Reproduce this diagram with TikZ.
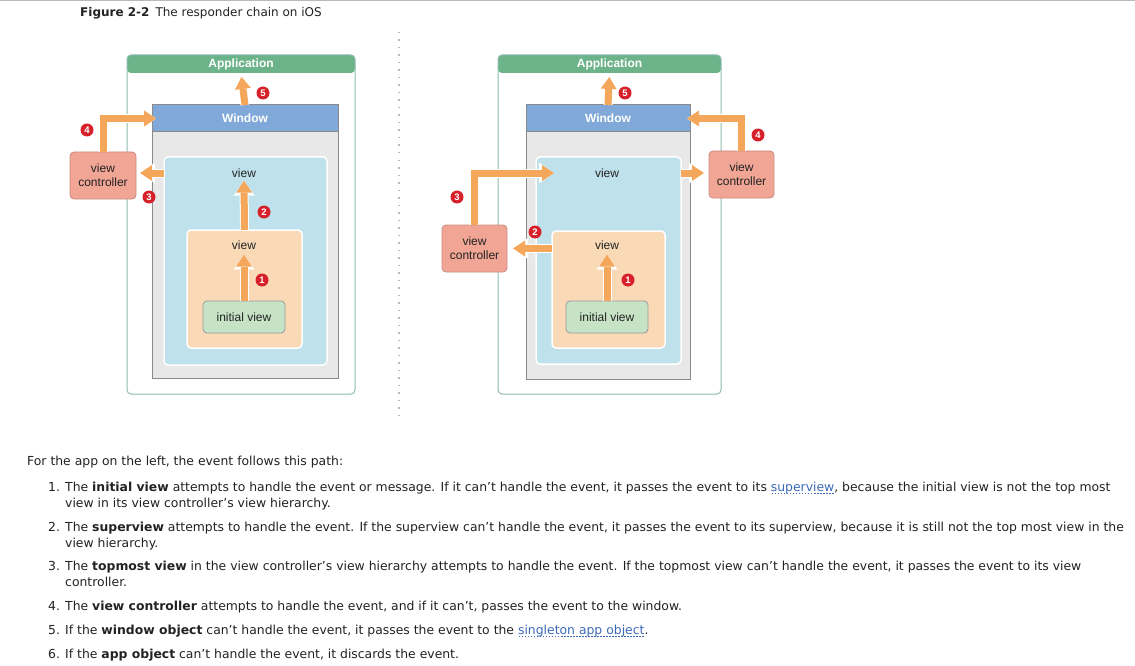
\documentclass[tikz,border=0pt]{standalone}
\usepackage{fontspec}
\usetikzlibrary{arrows.meta,calc}
\setmainfont{DejaVu Sans}
\newfontfamily\figfont{Liberation Sans}
\definecolor{appgreen}{HTML}{6DB38A}
\definecolor{appline}{HTML}{8DBBAE}
\definecolor{winblue}{HTML}{80A8D8}
\definecolor{wingray}{HTML}{8A8A8A}
\definecolor{winfill}{HTML}{E8E8E8}
\definecolor{viewblue}{HTML}{BEE1EB}
\definecolor{viewpeach}{HTML}{F9D9B6}
\definecolor{initfill}{HTML}{C7E3C6}
\definecolor{initline}{HTML}{9A9A9A}
\definecolor{vcfill}{HTML}{F1A595}
\definecolor{vcline}{HTML}{C98A80}
\definecolor{floworange}{HTML}{F4A75A}
\definecolor{badgered}{HTML}{D6212B}
\definecolor{linkblue}{HTML}{3C6AB8}
\definecolor{textdark}{HTML}{222222}
\newsavebox\lnkbox
\newcommand{\lnk}[1]{{\color{linkblue}\sbox\lnkbox{#1}\rlap{\usebox\lnkbox}%
  \raisebox{-3pt}{\hbox to \wd\lnkbox{\xleaders\hbox to 3pt{\hss\rule{1.6pt}{0.7pt}\hss}\hfill}}}}

\begin{document}
\begin{tikzpicture}[x=1pt,y=-1pt,
    box/.style={inner sep=0pt,outer sep=0pt},
    appbox/.style={box,draw=appline,line width=1pt,rounded corners=4pt,
      path picture={\fill[appgreen] (path picture bounding box.north west)
        rectangle ([yshift=-18pt]path picture bounding box.north east);}},
    apphead/.style={box,anchor=north,minimum height=18pt,text=white,
      font=\figfont\bfseries\fontsize{12}{12}\selectfont},
    winbox/.style={box,draw=wingray,fill=winfill,line width=1pt},
    winhead/.style={box,anchor=north,draw=wingray,fill=winblue,line width=1pt,
      minimum height=27pt,text=white,font=\figfont\bfseries\fontsize{12}{12}\selectfont},
    viewbox/.style={box,draw=white,line width=1.5pt,rounded corners=4pt},
    initbox/.style={box,draw=initline,fill=initfill,line width=0.8pt,rounded corners=4pt,
      minimum width=82pt,minimum height=32pt,text=textdark,font=\figfont\fontsize{12}{12}\selectfont},
    vcbox/.style={box,draw=vcline,fill=vcfill,line width=0.8pt,rounded corners=4pt,
      minimum width=66pt,minimum height=47pt,align=center,text=textdark,
      font=\figfont\fontsize{12}{14}\selectfont},
    lbl/.style={inner sep=2pt,text=textdark,font=\figfont\fontsize{12}{12}\selectfont},
    flow/.style={draw=floworange,line width=7pt,
      -{Triangle[width=16pt 0 0,length=12pt 0 0,line width=0pt]},
      preaction={draw=white,line width=9pt,
        -{Triangle[width=21pt 0 0,length=15pt 0 0,line width=0pt]}}},
    badge/.style={circle,fill=badgered,text=white,inner sep=0pt,minimum size=13pt,
      font=\figfont\bfseries\fontsize{9.5}{9.5}\selectfont},
    body/.style={anchor=base west,inner sep=0pt,text=textdark,font=\fontsize{12.4}{14}\selectfont}]

  \useasboundingbox (0,0) rectangle (1135,666);
  \draw[gray!55,line width=1.5pt] (0,0.75) -- (1135,0.75);
  \node[body,font=\fontsize{12}{14}\selectfont] (title) at (80,17)
    {\textbf{Figure 2-2}\hspace{6pt}The responder chain on iOS};

  % separator
  \draw[gray!55,line width=2pt,dash pattern=on 1.5pt off 6pt] (399,32) -- (399,415);

  % ---- left app ----
  \node[appbox,minimum width=228pt,minimum height=339pt] (appL) at (241,224.5) {};
  \node[apphead,minimum width=228pt] (appLh) at (appL.north) {Application};
  \node[winbox,minimum width=186pt,minimum height=273pt] (winL) at (245,241.5) {};
  \node[winhead,minimum width=186pt] (winLh) at (winL.north) {Window};
  \node[viewbox,fill=viewblue,minimum width=163pt,minimum height=208pt] (vL) at (245.5,261) {};
  \node[viewbox,fill=viewpeach,minimum width=115pt,minimum height=118pt] (oL) at (244.5,289) {};
  \node[initbox] (iL) at (244,317) {initial view};
  \node[lbl] (vlabL) at (244,173) {view};
  \node[lbl] (olabL) at (244,245) {view};
  \node[vcbox] (vcL) at (103,175.5) {view\\controller};

  \draw[flow,shorten >=3pt] (iL.north) -- (olabL.south);
  \draw[flow,shorten >=1pt] (oL.north) -- (vlabL.south);
  \draw[flow,shorten >=4pt] (vL.west |- vlabL) -- (vcL.east |- vlabL);
  \draw[flow,shorten >=-4pt] (vcL.north) |- (winL.west |- winLh);
  \draw[flow,shorten >=4pt] (winL.north) -- (appLh.south);

  \node[badge] (bL1) at (262,280) {1};
  \node[badge] (bL2) at (264,212) {2};
  \node[badge] (bL3) at (149,197) {3};
  \node[badge] (bL4) at (87,130) {4};
  \node[badge] (bL5) at (263,93) {5};

  % ---- right app ----
  \node[appbox,minimum width=223pt,minimum height=339pt] (appR) at (609.5,224.5) {};
  \node[apphead,minimum width=223pt] (appRh) at (appR.north) {Application};
  \node[winbox,minimum width=164pt,minimum height=274pt] (winR) at (608,242) {};
  \node[winhead,minimum width=164pt] (winRh) at (winR.north) {Window};
  \node[viewbox,fill=viewblue,minimum width=145pt,minimum height=207pt] (vR) at (608.5,260.5) {};
  \node[viewbox,fill=viewpeach,minimum width=113pt,minimum height=117pt] (oR) at (608.5,289.5) {};
  \node[initbox] (iR) at (607,317) {initial view};
  \node[lbl] (vlabR) at (607,173) {view};
  \node[lbl] (olabR) at (607,245) {view};
  \node[vcbox,minimum width=65pt] (vcR2) at (474.5,248.5) {view\\controller};
  \node[vcbox,minimum width=65pt] (vcR) at (741.5,174.5) {view\\controller};

  \draw[flow,shorten >=3pt] (iR.north) -- (olabR.south);
  \draw[flow,shorten >=6pt] (oR.west |- vcR2) -- (vcR2.east);
  \draw[flow,shorten >=-18pt] (vcR2.north) |- (vR.west |- vlabR);
  \draw[flow,shorten >=5pt] (vR.east |- vlabR) -- (vcR.west |- vlabR);
  \draw[flow,shorten >=-3pt] (vcR.north) |- (winR.east |- winRh);
  \draw[flow,shorten >=4pt] (winR.north) -- (appRh.south);

  \node[badge] (bR1) at (628,280) {1};
  \node[badge] (bR2) at (535,232) {2};
  \node[badge] (bR3) at (457,197) {3};
  \node[badge] (bR4) at (758,135) {4};
  \node[badge] (bR5) at (625,93) {5};

  % ---- text ----
  \node[body] (intro) at (27,465) {For the app on the left, the event follows this path:};
  \node[body] (n1) at (48,491) {1.};
  \node[body] (t1a) at (65,491) {The \textbf{initial view} attempts to handle the event or message. If it can't handle the event, it passes the event to its \lnk{superview}, because the initial view is not the top most};
  \node[body] (t1b) at (65,507) {view in its view controller's view hierarchy.};
  \node[body] (n2) at (48,531) {2.};
  \node[body] (t2a) at (65,531) {The \textbf{superview} attempts to handle the event. If the superview can't handle the event, it passes the event to its superview, because it is still not the top most view in the};
  \node[body] (t2b) at (65,547) {view hierarchy.};
  \node[body] (n3) at (48,570) {3.};
  \node[body] (t3a) at (65,570) {The \textbf{topmost view} in the view controller's view hierarchy attempts to handle the event. If the topmost view can't handle the event, it passes the event to its view};
  \node[body] (t3b) at (65,586) {controller.};
  \node[body] (n4) at (48,610) {4.};
  \node[body] (t4) at (65,610) {The \textbf{view controller} attempts to handle the event, and if it can't, passes the event to the window.};
  \node[body] (n5) at (48,634) {5.};
  \node[body] (t5) at (65,634) {If the \textbf{window object} can't handle the event, it passes the event to the \lnk{singleton app object}.};
  \node[body] (n6) at (48,658) {6.};
  \node[body] (t6) at (65,658) {If the \textbf{app object} can't handle the event, it discards the event.};
\end{tikzpicture}
\end{document}
